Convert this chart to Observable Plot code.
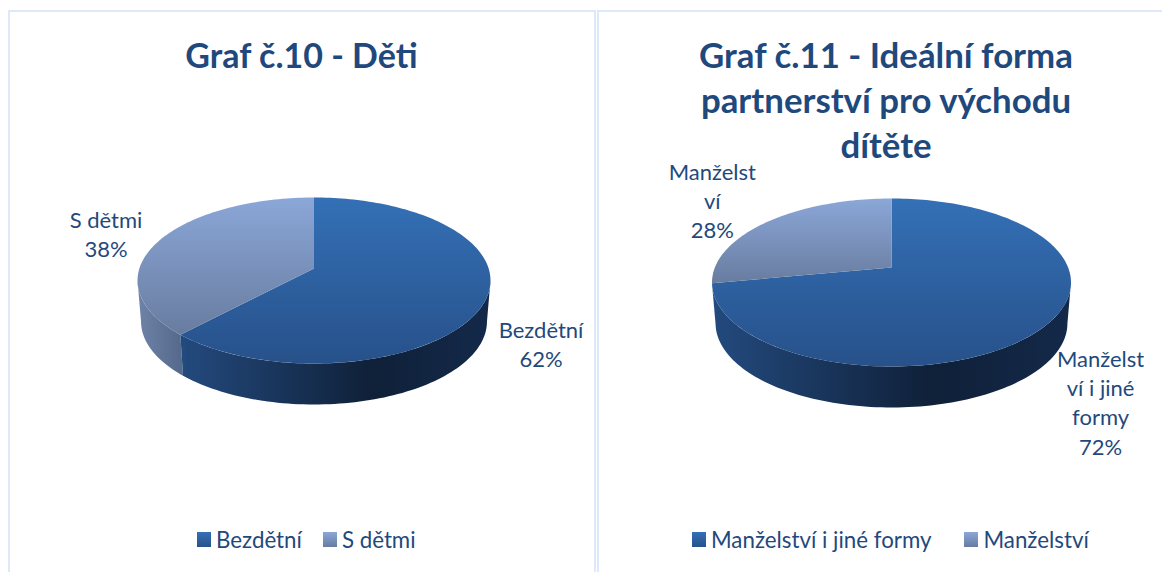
<!DOCTYPE html>
<html lang="cs">
<head>
<meta charset="utf-8">
<script src="https://cdn.jsdelivr.net/npm/d3@7"></script>
<script src="https://cdn.jsdelivr.net/npm/@observablehq/plot@0.6"></script>
<style>
  html, body { margin: 0; padding: 0; background: #fff; }
  body { position: relative; width: 1162px; height: 572px; overflow: hidden; font-family: Lato, sans-serif; color: #1f497d; }
  .panel { position: absolute; box-sizing: border-box; border: 2px solid #dde9f9; border-bottom: none; }
  .title { position: absolute; text-align: center; font-weight: 700; font-size: 34px; line-height: 45px; }
  .legend { position: absolute; top: 525px; display: flex; align-items: center; height: 28px; font-size: 22.3px; white-space: nowrap; }
  .legend i { display: inline-block; width: 14px; height: 15px; margin-right: 5px; }
  .plot { position: absolute; top: 155px; }
</style>
</head>
<body>
<div id="root"></div>
<script>
const detiTitle = "Graf č.10 - Děti";
const detiCategories = ["Bezdětní", "S dětmi"];
const detiValues = [62, 38];
const detiLabels = ["Bezdětní\n62%", "S dětmi\n38%"];

const formaTitle = "Graf č.11 - Ideální forma\npartnerství pro východu\ndítěte";
const formaCategories = ["Manželství i jiné formy", "Manželství"];
const formaValues = [72, 28];
const formaLabels = ["Manželst\nví i jiné\nformy\n72%", "Manželst\nví\n28%"];

const blueTop = ["#3470b6", "#27518a"];
const lightTop = ["#8ba7d8", "#687c9f"];
const blueSide = [[0, "#234a7e"], [0.62, "#0f2038"], [1, "#14294a"]];
const lightSide = [[0, "#6f83a8"], [1, "#54688b"]];
const inkColor = "#1f497d";

const root = document.getElementById("root");

function addPlot(cfg) {
  const { left, width, height, cx, hub, top, bottom, halfWidth, depth, narrow, values, labels, offsets } = cfg;
  const d1 = hub - top, d2 = bottom - hub;
  const c = (d2 - d1) / (d2 + d1);
  const K = d1 * (1 + c);
  const R = halfWidth * Math.sqrt(1 - c * c);
  const project = (deg, lower = false) => {
    const t = deg * Math.PI / 180, u = Math.sin(t), v = Math.cos(t), w = 1 + c * v;
    return lower
      ? { x: (u / w) * narrow, y: v / w - depth / K }
      : { x: u / w, y: v / w };
  };
  const arc = (a, b, lower) => {
    const n = Math.max(2, Math.ceil(Math.abs(b - a) / 1.5));
    return d3.range(n + 1).map(i => project(a + (b - a) * i / n, lower));
  };
  const total = d3.sum(values);
  const split = values[0] / total * 360;
  const wideR = Math.atan2(Math.sqrt(1 - c * c), -c) * 180 / Math.PI;
  const wideL = 360 - wideR;
  const side = (a, b) => [...arc(a, b, false), ...arc(b, a, true)];
  const wedge = (a, b) => [{ x: 0, y: 0 }, ...arc(a, b, false)];
  const poly = (pts, fill) => Plot.line(pts, { x: "x", y: "y", fill, stroke: "none", curve: "linear" });
  const mids = [split / 2, split + (360 - split) / 2];
  const marks = [
    () => {
      const defs = d3.create("svg:defs");
      const grad = (id, stops, horizontal) => {
        const g = defs.append("linearGradient").attr("id", id)
          .attr("x1", 0).attr("y1", 0).attr("x2", horizontal ? 1 : 0).attr("y2", horizontal ? 0 : 1);
        stops.forEach(([o, col]) => g.append("stop").attr("offset", o).attr("stop-color", col));
      };
      grad("blueTop" + left, [[0, blueTop[0]], [1, blueTop[1]]], false);
      grad("lightTop" + left, [[0, lightTop[0]], [1, lightTop[1]]], false);
      grad("blueSide" + left, blueSide, true);
      grad("lightSide" + left, lightSide, true);
      return defs.node();
    }
  ];
  if (wideL > split + 0.5) marks.push(poly(side(split, wideL), `url(#lightSide${left})`));
  marks.push(poly(side(wideR, Math.min(split, wideL)), `url(#blueSide${left})`));
  marks.push(poly(wedge(0, split), `url(#blueTop${left})`));
  marks.push(poly(wedge(split, 360), `url(#lightTop${left})`));
  labels.forEach((text, i) => {
    const p = project(mids[i]);
    marks.push(Plot.text([{ ...p, text }], {
      x: "x", y: "y", text: "text", dx: offsets[i][0], dy: offsets[i][1],
      fill: inkColor, fontSize: 22, lineHeight: 1.33, lineAnchor: "middle", textAnchor: "middle"
    }));
  });
  const svg = Plot.plot({
    width, height,
    marginTop: 0, marginRight: 0, marginBottom: 0, marginLeft: 0,
    x: { axis: null, domain: [-cx / R, (width - cx) / R], range: [0, width] },
    y: { axis: null, domain: [hub / K, (hub - height) / K], range: [0, height] },
    style: { background: "transparent", fontFamily: "Lato, sans-serif", overflow: "visible" },
    marks
  });
  svg.classList.add("plot");
  svg.style.left = left + "px";
  svg.style.top = "155px";
  svg.style.position = "absolute";
  root.appendChild(svg);
}

function addPanel(left, width) {
  const d = document.createElement("div");
  d.className = "panel";
  d.style.cssText = `left:${left}px;top:10px;width:${width}px;height:562px`;
  root.appendChild(d);
}
function addTitle(text, left, width, size) {
  const d = document.createElement("div");
  d.className = "title";
  d.style.cssText = `left:${left}px;width:${width}px;top:32px;font-size:${size}px`;
  d.innerHTML = text.split("\n").join("<br>");
  root.appendChild(d);
}
function addLegend(cats, gradients, left, gap) {
  const d = document.createElement("div");
  d.className = "legend";
  d.style.left = left + "px";
  cats.forEach((cat, i) => {
    const sw = document.createElement("i");
    sw.style.background = `linear-gradient(${gradients[i][0]}, ${gradients[i][1]})`;
    if (i) sw.style.marginLeft = gap + "px";
    const s = document.createElement("span");
    s.textContent = cat;
    d.append(sw, s);
  });
  root.appendChild(d);
}

addPanel(8, 588);
addPanel(597, 570);
addTitle(detiTitle, 1, 601, 34);
addTitle(formaTitle, 586, 600, 34.8);

addPlot({
  left: 10, width: 584, height: 365,
  cx: 303.5, hub: 113, top: 42, bottom: 208, halfWidth: 176.5, depth: 41, narrow: 0.98,
  values: detiValues, labels: detiLabels, offsets: [[55.5, 43], [-53.8, -7]]
});
addPlot({
  left: 599, width: 563, height: 365,
  cx: 292, hub: 112, top: 43, bottom: 211, halfWidth: 179.5, depth: 41, narrow: 0.98,
  values: formaValues, labels: formaLabels, offsets: [[55.5, 75.5], [-57, -21.5]]
});

addLegend(detiCategories, [blueTop, lightTop], 197, 21);
addLegend(formaCategories, [blueTop, lightTop], 692, 33);
</script>
</body>
</html>
